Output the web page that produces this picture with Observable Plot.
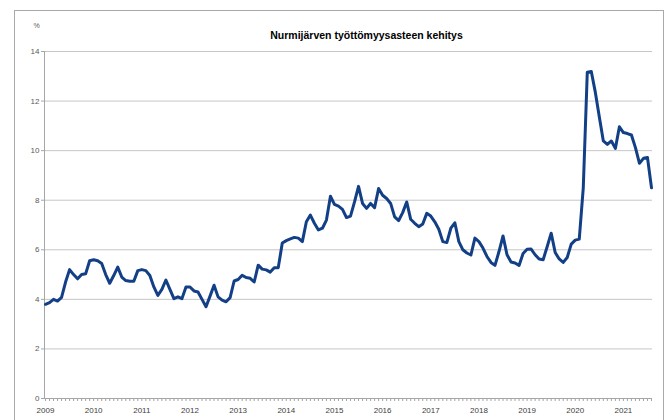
<!DOCTYPE html>
<html>
<head>
<meta charset="utf-8">
<script src="https://cdn.jsdelivr.net/npm/d3@7"></script>
<script src="https://cdn.jsdelivr.net/npm/@observablehq/plot@0.6"></script>
<style>
  html, body { margin: 0; padding: 0; background: #fff; }
  #wrap { position: relative; width: 670px; height: 420px; overflow: hidden; }
  #frame { position: absolute; left: 14px; top: 10px; width: 650px; height: 430px; border: 1px solid #a9a9a9; box-sizing: border-box; pointer-events: none; }
  #chart { position: absolute; left: 0; top: 0; }
</style>
</head>
<body>
<div id="wrap"><div id="frame"></div><div id="chart"></div></div>
<script>
const title = "Nurmijärven työttömyysasteen kehitys";
const unitLabel = "%";
const startYear = 2009;
const yearLabels = ["2009","2010","2011","2012","2013","2014","2015","2016","2017","2018","2019","2020","2021"];
const yTicks = [0, 2, 4, 6, 8, 10, 12, 14];
// monthly unemployment rate, Jan 2009 – Aug 2021
const values = [
  3.8, 3.87, 4.0, 3.93, 4.08, 4.7, 5.2, 5.0, 4.83, 5.0, 5.03, 5.56,
  5.6, 5.56, 5.45, 5.0, 4.65, 4.96, 5.3, 4.9, 4.76, 4.73, 4.73, 5.16,
  5.2, 5.16, 4.96, 4.5, 4.16, 4.4, 4.78, 4.4, 4.03, 4.1, 4.03, 4.5,
  4.5, 4.34, 4.3, 4.0, 3.7, 4.13, 4.57, 4.1, 3.97, 3.9, 4.07, 4.74,
  4.8, 4.97, 4.88, 4.85, 4.7, 5.38, 5.22, 5.19, 5.1, 5.28, 5.28, 6.27,
  6.37, 6.44, 6.5, 6.47, 6.33, 7.13, 7.4, 7.07, 6.8, 6.87, 7.2, 8.16,
  7.83, 7.76, 7.63, 7.3, 7.36, 7.93, 8.56, 7.87, 7.67, 7.87, 7.7, 8.47,
  8.2, 8.07, 7.87, 7.33, 7.18, 7.5, 7.93, 7.23, 7.07, 6.93, 7.04, 7.47,
  7.36, 7.13, 6.83, 6.33, 6.29, 6.87, 7.09, 6.33, 6.0, 5.87, 5.79, 6.47,
  6.33, 6.07, 5.73, 5.49, 5.37, 5.93, 6.56, 5.8, 5.51, 5.47, 5.37, 5.85,
  6.02, 6.03, 5.8, 5.63, 5.6, 6.12, 6.67, 5.89, 5.63, 5.49, 5.69, 6.23,
  6.39, 6.43, 8.5, 13.16, 13.19, 12.36, 11.36, 10.39, 10.25, 10.39, 10.09, 10.96,
  10.73, 10.69, 10.63, 10.12, 9.49, 9.69, 9.72, 8.5
];

const data = values.map((v, i) => ({month: i, value: v}));
const monthTicks = d3.range(values.length);
const yearTicks = yearLabels.map((y, k) => k * 12);
const xDomain = [-0.25, values.length - 0.75];

const chart = Plot.plot({
  width: 670,
  height: 420,
  marginLeft: 44,
  marginRight: 18,
  marginTop: 51,
  marginBottom: 22,
  style: {fontFamily: "'Liberation Sans', Arial, sans-serif", fontSize: "8px", color: "#595959", background: "transparent", overflow: "visible"},
  x: {domain: xDomain, axis: null},
  y: {domain: [0, 14], axis: null},
  marks: [
    Plot.gridY(yTicks, {stroke: "#c6c6c6", strokeOpacity: 1, strokeWidth: 1}),
    Plot.ruleX([xDomain[0]], {stroke: "#a6a6a6"}),
    Plot.ruleY([0], {stroke: "#a6a6a6"}),
    Plot.axisY(yTicks, {tickSize: 3, tickPadding: 2, stroke: "#a6a6a6", label: null, fill: "#595959"}),
    Plot.axisX(monthTicks, {tickSize: 3, tickFormat: () => "", stroke: "#a6a6a6", label: null}),
    Plot.axisX(yearTicks, {tickSize: 0, tickPadding: 9, tickFormat: (d) => yearLabels[d / 12], label: null, fill: "#404040"}),
    Plot.lineY(data, {x: "month", y: "value", stroke: "#123f85", strokeWidth: 3, strokeLinejoin: "round", strokeLinecap: "round"}),
    Plot.text([title], {frameAnchor: "top", dx: 18, dy: -20, fontSize: 10.5, fontWeight: "bold", fill: "#000"}),
    Plot.text([unitLabel], {frameAnchor: "top-left", dx: -11, dy: -28, fontSize: 7, fill: "#595959"})
  ]
});
document.getElementById("chart").appendChild(chart);
</script>
</body>
</html>
